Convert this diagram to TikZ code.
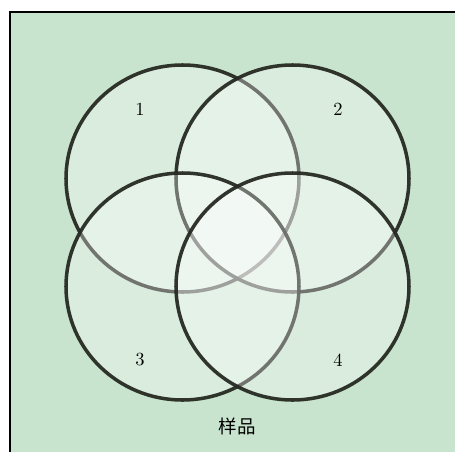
\documentclass[tikz,border=0pt]{standalone}
\usepackage{fontspec}
\newfontfamily\cjk{Noto Sans CJK SC}
\usepackage{xcolor}
\usepackage{tikz}
\definecolor{bggreen}{RGB}{200,228,206}
\definecolor{setline}{RGB}{38,42,34}
\tikzset{
  setbox/.style={draw=setline,line width=1.9pt,fill=white,fill opacity=0.32,draw opacity=0.95},
  setlabel/.style={font=\normalsize,text=black}
}

\begin{document}
\begin{tikzpicture}[x=0.54pt,y=0.54pt]
\clip (-237.5,-218.5) rectangle (217.5,232.5);
\draw[fill=bggreen,line width=0.8pt] (-227.5,-220.5) rectangle (227.5,220.5);
% the four sets, drawn in order
\draw[setbox] (-55,54) ellipse [x radius=116.5,y radius=113.5];
\draw[setbox] (55,54) ellipse [x radius=116.5,y radius=113.5];
\draw[setbox] (-55,-54) ellipse [x radius=116.5,y radius=113.5];
\draw[setbox] (55,-54) ellipse [x radius=116.5,y radius=113.5];
\node[setlabel] (one) at (-97.5,123.5) {1};
\node[setlabel] (two) at (100.5,123.5) {2};
\node[setlabel] (three) at (-97.5,-127.5) {3};
\node[setlabel] (four) at (100.5,-127.5) {4};
\node[setlabel,font=\cjk] (sample) at (0,-193.5) {样品};
\end{tikzpicture}
\end{document}
